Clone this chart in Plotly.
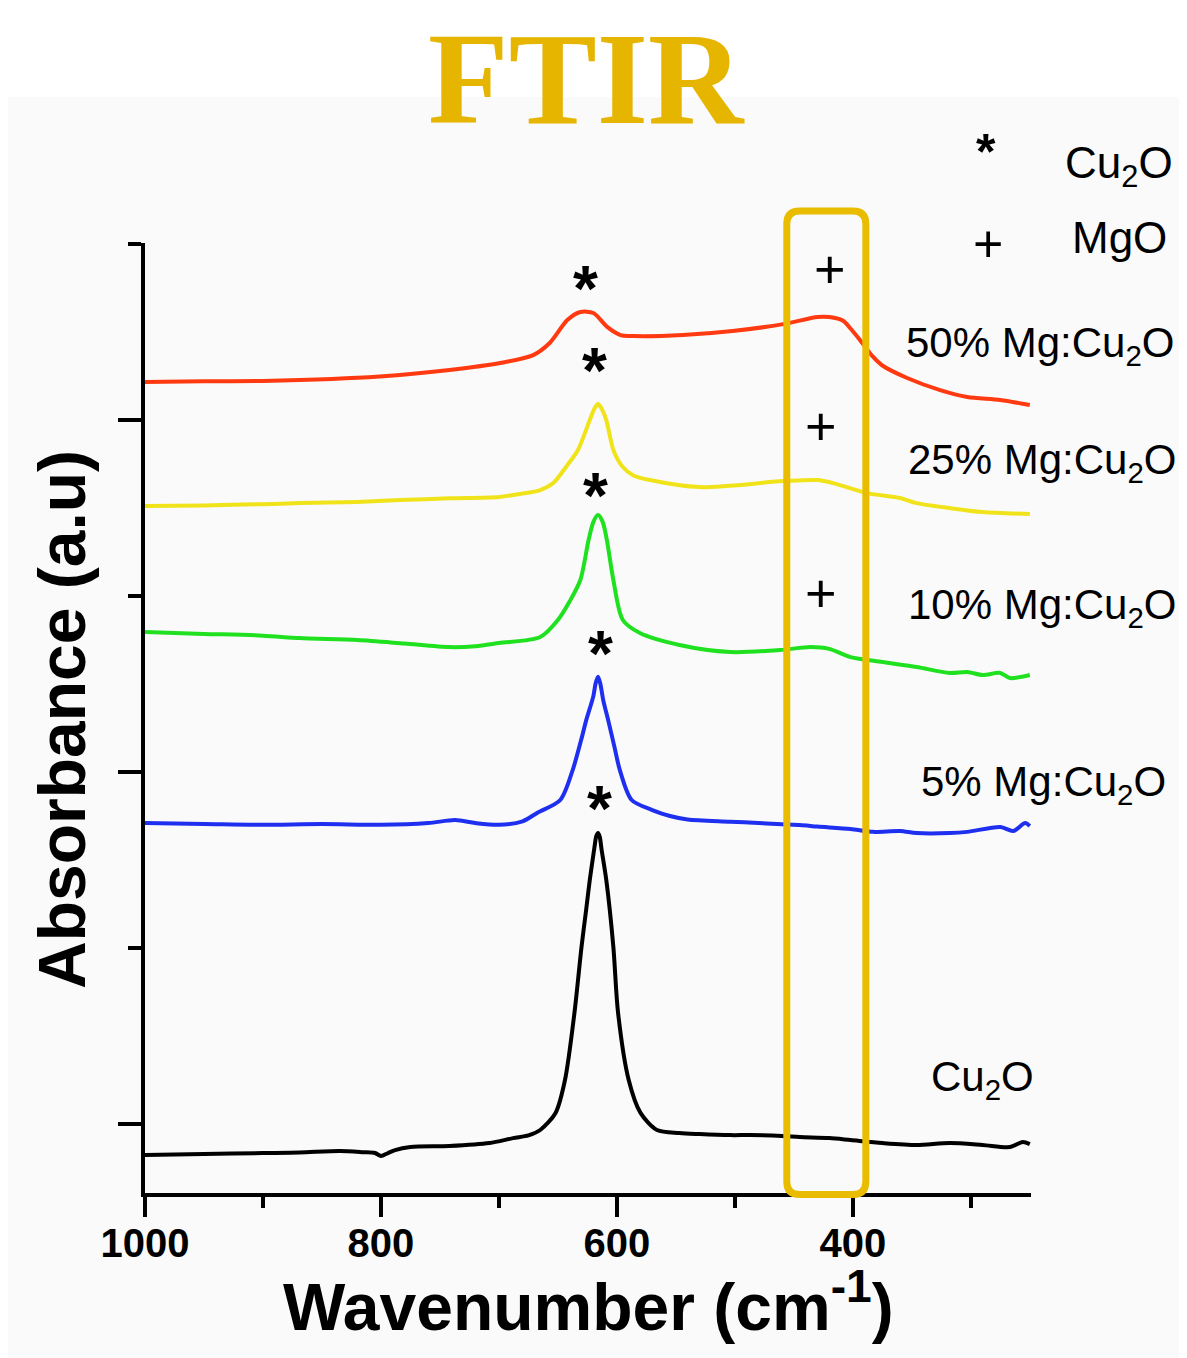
import plotly.graph_objects as go

# ---------------- data ----------------
# wavenumber (cm^-1) and absorbance (a.u., stacked offsets)
cu2o_w = [1000,950,900,869,835,815,805,800,794,788,775,742,708,688,675,665,652,644,636,630,626,623,619,617.5,616,614.5,613,609,603,599,590,580,566,547,530,504,487,460,445,420,402,375,346,318,290,267,256,250]
cu2o_a = [-1.76,-1.70,-1.65,-1.62,-1.53,-1.60,-1.65,-1.82,-1.65,-1.48,-1.31,-1.25,-1.08,-0.80,-0.65,-0.34,0.63,2.50,6.31,10.06,12.2,13.86,15.74,16.35,16.53,16.30,15.60,13.86,10.06,6.31,2.50,0.63,-0.34,-0.51,-0.57,-0.63,-0.63,-0.68,-0.74,-0.80,-0.91,-1.08,-1.19,-1.08,-1.19,-1.31,-1.02,-1.14]

mg5_w = [1000,950,900,850,800,760,737,720,700,680,667,648,637.5,630,626,620,618,616,614,611.6,607.4,602,597.5,587.5,570,555,540,504,480,445,430,402,383,360,346,318,303,275,264,254,250]
mg5_a = [17.10,17.05,17.00,17.05,17.00,17.10,17.27,17.10,17.00,17.20,17.70,18.41,20.11,21.90,22.95,24.30,25.05,25.41,25.00,24.09,22.95,21.40,20.11,18.41,17.84,17.50,17.30,17.18,17.10,16.99,16.90,16.76,16.60,16.65,16.53,16.53,16.60,16.88,16.65,17.10,16.93]

mg10_w = [1000,950,900,869,820,780,742,720,700,665,650,640,631,624,620,616,612,608.5,603,595,580.5,547,504,462,436,420,402,375,346,318,303,290,275,267,250]
mg10_a = [27.95,27.85,27.75,27.61,27.50,27.30,27.10,27.15,27.33,27.67,28.64,29.70,30.91,33.18,34.20,34.60,34.20,33.18,30.91,28.64,27.90,27.22,26.82,26.93,27.10,27.00,26.53,26.25,25.97,25.63,25.68,25.51,25.63,25.34,25.51]

mg25_w = [1000,950,900,869,820,784,742,700,682,665,654,642,633,623,619,616,613,609,603,595,586,572,530,459,430,416,388,360,346,318,290,250]
mg25_a = [35.11,35.15,35.22,35.28,35.35,35.45,35.55,35.63,35.80,36.02,36.42,37.44,38.30,40.00,40.65,40.91,40.65,40.00,38.30,37.33,36.85,36.59,36.19,36.53,36.59,36.40,35.85,35.57,35.28,35.00,34.77,34.66]

mg50_w = [1000,950,900,869,820,784,742,699,671,657,642,631,620,608,597,586,544,502,459,430,420,408,402,394,383,375,354,326,303,275,250]
mg50_a = [42.16,42.20,42.22,42.27,42.40,42.56,42.84,43.24,43.69,44.38,45.68,46.14,46.08,45.28,44.83,44.77,44.83,45.06,45.45,45.85,45.85,45.63,45.20,44.55,43.60,43.10,42.39,41.70,41.31,41.14,40.85]

series_names = ["Cu<sub>2</sub>O", "5% Mg:Cu<sub>2</sub>O", "10% Mg:Cu<sub>2</sub>O",
                "25% Mg:Cu<sub>2</sub>O", "50% Mg:Cu<sub>2</sub>O"]

# peak markers (Cu2O '*', MgO '+')
star_w = [627, 619, 618, 614, 615]
star_a = [47.95, 43.30, 36.19, 27.22, 18.41]
plus_w = [419, 427, 427]
plus_a = [48.52, 39.60, 30.11]

# highlighted MgO band (cm^-1)
mgo_band = [456, 389]

x_major = [1000, 800, 600, 400]
x_minor = [900, 700, 500, 300]

# ---------------- styles ----------------
colors = ["#000000", "#1F2FF0", "#1FE11F", "#F0E31A", "#FF3A10"]
SANS = "Arial, Liberation Sans, sans-serif"
GOLD = "#E6B500"

fig = go.Figure()
for xs, ys, c, n in zip([cu2o_w, mg5_w, mg10_w, mg25_w, mg50_w],
                        [cu2o_a, mg5_a, mg10_a, mg25_a, mg50_a], colors, series_names):
    fig.add_trace(go.Scatter(x=xs, y=ys, mode="lines", name=n,
                             line=dict(color=c, width=4, shape="spline", smoothing=0.8),
                             showlegend=False, hoverinfo="skip"))

OFF = 8  # page body margin
W, H = 1187 - OFF, 1358 - OFF
L, R, T, B = 145 - OFF, 156, 243 - OFF, 165
pw, ph = W - L - R, H - T - B


def px(x):
    return (x - OFF - L) / pw


def py(y):
    return (H - B - (y - OFF)) / ph


# white band at top of the page
fig.add_shape(type="rect", xref="paper", yref="paper", x0=px(0), x1=px(1200), y0=py(97), y1=py(0),
              fillcolor="white", line=dict(width=0), layer="below")

# rounded gold box around MgO band
xa, xb = mgo_band
rx = 11
top, bot = py(211), py(1194.5)
ry = 13 / ph
path = (f"M {xa},{top-ry} L {xa},{bot+ry} Q {xa},{bot} {xa-rx},{bot} "
        f"L {xb+rx},{bot} Q {xb},{bot} {xb},{bot+ry} L {xb},{top-ry} "
        f"Q {xb},{top} {xb+rx},{top} L {xa-rx},{top} Q {xa},{top} {xa},{top-ry} Z")
fig.add_shape(type="path", xref="x", yref="paper", path=path,
              line=dict(color="#E9BC00", width=7), layer="above")

ann = []
# peak markers
for sx, sy in zip(star_w, star_a):
    ann.append(dict(text="<b>*</b>", x=sx, y=sy, xref="x", yref="y", showarrow=False,
                    xanchor="center", yanchor="middle", yshift=-9,
                    font=dict(family=SANS, size=64, color="black")))
for sx, sy in zip(plus_w, plus_a):
    ann.append(dict(text="+", x=sx, y=sy, xref="x", yref="y", showarrow=False,
                    xanchor="center", yanchor="middle", yshift=1,
                    font=dict(family=SANS, size=54, color="black")))
# title
ann.append(dict(text="FTIR", x=px(586), y=py(78), xref="paper", yref="paper", showarrow=False,
                xanchor="center", yanchor="middle", height=130,
                font=dict(family="Liberation Serif, Times New Roman, serif", size=132,
                          color=GOLD, weight="bold")))
# series labels
label_pos = [(929, 1077), (919, 782), (906, 605), (906, 460), (904, 343)]
for (lx, ly), n in zip(label_pos, series_names):
    ann.append(dict(text=n, x=px(lx), y=py(ly), xref="paper", yref="paper", showarrow=False,
                    xanchor="left", yanchor="middle", yshift=-2,
                    font=dict(family=SANS, size=42, color="black")))
# legend
ann.append(dict(text="<b>*</b>", x=px(986), y=py(145), xref="paper", yref="paper", showarrow=False,
                xanchor="center", yanchor="middle", yshift=-7,
                font=dict(family=SANS, size=50, color="black")))
ann.append(dict(text="Cu<sub>2</sub>O", x=px(1063), y=py(164), xref="paper", yref="paper",
                showarrow=False, xanchor="left", yanchor="middle", yshift=-2,
                font=dict(family=SANS, size=44, color="black")))
ann.append(dict(text="+", x=px(988), y=py(243), xref="paper", yref="paper", showarrow=False,
                xanchor="center", yanchor="middle", yshift=-1,
                font=dict(family=SANS, size=52, color="black")))
ann.append(dict(text="MgO", x=px(1070), y=py(238), xref="paper", yref="paper",
                showarrow=False, xanchor="left", yanchor="middle",
                font=dict(family=SANS, size=44, color="black")))
# axis titles
ann.append(dict(text="<b>Wavenumber (cm<sup>-1</sup>)</b>", x=px(588), y=py(1302), xref="paper",
                yref="paper", showarrow=False, xanchor="center", yanchor="middle",
                font=dict(family=SANS, size=66, color="black")))
ann.append(dict(text="<b>Absorbance (a.u)</b>", x=px(62), y=py(720), xref="paper",
                yref="paper", showarrow=False, xanchor="center", yanchor="middle", textangle=-90,
                font=dict(family=SANS, size=66, color="black")))

fig.update_layout(
    width=W, height=H, margin=dict(l=L, r=R, t=T, b=B, pad=0),
    paper_bgcolor="#FAFAFA", plot_bgcolor="#FAFAFA",
    annotations=ann,
    xaxis=dict(range=[1000, 249], tickmode="array", tickvals=x_major,
               ticktext=[str(v) for v in x_major],
               ticks="outside", ticklen=20, tickwidth=4, tickcolor="black",
               ticklabelstandoff=-8,
               minor=dict(tickmode="array", tickvals=x_minor, ticks="outside", ticklen=11,
                          tickwidth=4, tickcolor="black", showgrid=False),
               showline=True, linewidth=4, linecolor="black", showgrid=False, zeroline=False,
               tickfont=dict(family=SANS, size=40, color="black", weight="bold")),
    yaxis=dict(range=[-3.92, 50.06], tickmode="array", tickvals=[0, 20, 40],
               ticks="outside", ticklen=23, tickwidth=4, tickcolor="black",
               minor=dict(tickmode="array", tickvals=[10, 30, 50], ticks="outside", ticklen=13,
                          tickwidth=4, tickcolor="black", showgrid=False),
               showticklabels=False, showline=True, linewidth=4, linecolor="black",
               showgrid=False, zeroline=False),
)

fig.write_html("out.html")
